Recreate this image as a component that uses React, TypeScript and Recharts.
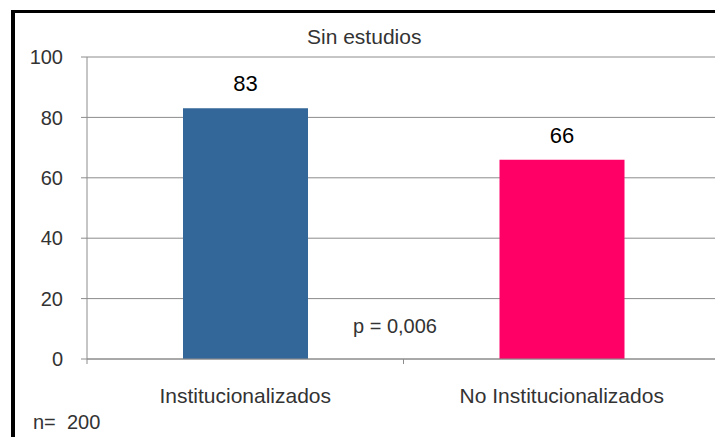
import { Bar, BarChart, CartesianGrid, LabelList, XAxis, YAxis } from "recharts";

const categories = ["Institucionalizados", "No Institucionalizados"];
const values = [83, 66];
const colors = ["#336699", "#ff0066"];
const yTicks = [0, 20, 40, 60, 80, 100];

const W = 715;
const H = 429;
const PLOT_LEFT = 79;
const PLOT_RIGHT = 712;
const HALF_BAND = (PLOT_RIGHT - PLOT_LEFT) / categories.length / 2;
const FONT = "'Liberation Sans', Arial, sans-serif";

function CategoryTick(props: any) {
  const { x, y, payload } = props;
  return (
    <g>
      <line x1={x - HALF_BAND} x2={x - HALF_BAND} y1={y} y2={y + 5} stroke="#8c8c8c" />
      <line x1={x + HALF_BAND} x2={x + HALF_BAND} y1={y} y2={y + 5} stroke="#8c8c8c" />
      <text x={x} y={y + 44} textAnchor="middle" fontSize={21} fill="#333" fontFamily={FONT}>
        {payload.value}
      </text>
    </g>
  );
}

export default function App() {
  const data = categories.map((name, i) => ({ name, value: values[i], fill: colors[i] }));
  return (
    <div style={{ position: "relative", width: W, height: H, fontFamily: FONT, background: "#fff" }}>
      <div style={{ position: "absolute", left: 3, top: 2, width: W - 3, height: 3, background: "#000" }} />
      <div style={{ position: "absolute", left: 3, top: 2, width: 4, height: H - 2, background: "#000" }} />
      <div style={{ position: "absolute", left: 0, top: 0 }}>
        <BarChart width={W} height={H} data={data} margin={{ top: 49, right: 3, bottom: 38, left: 0 }}>
          <CartesianGrid horizontal vertical={false} stroke="#8c8c8c" />
          <XAxis
            dataKey="name"
            height={40}
            tickSize={0}
            tickMargin={0}
            stroke="#8c8c8c"
            tick={<CategoryTick />}
            interval={0}
          />
          <YAxis
            domain={[0, 100]}
            ticks={yTicks}
            width={79}
            stroke="#8c8c8c"
            tickSize={6}
            tickMargin={18}
            tick={{ fontSize: 20, fill: "#333", fontFamily: FONT }}
          />
          <Bar dataKey="value" barSize={125} isAnimationActive={false}>
            <LabelList
              dataKey="value"
              position="top"
              offset={17}
              style={{ fontSize: 22, fill: "#000", fontFamily: FONT }}
            />
          </Bar>
        </BarChart>
      </div>
      <div style={{ position: "absolute", left: 299, top: 17, fontSize: 21, color: "#333" }}>Sin estudios</div>
      <div style={{ position: "absolute", left: 345, top: 307, fontSize: 20, color: "#333" }}>p = 0,006</div>
      <div style={{ position: "absolute", left: 25, top: 403, fontSize: 20, color: "#333" }}>n=&nbsp; 200</div>
    </div>
  );
}
